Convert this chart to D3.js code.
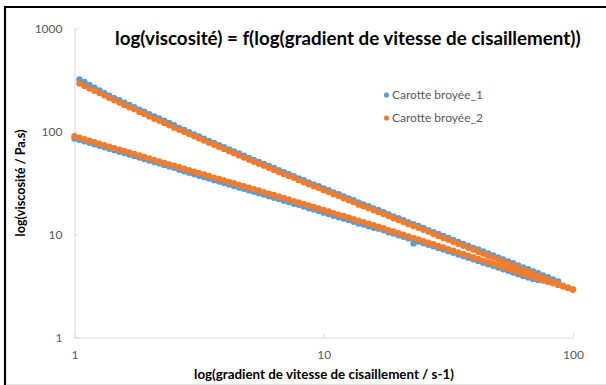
<!DOCTYPE html>
<html>
<head>
<meta charset="utf-8">
<script src="https://cdn.jsdelivr.net/npm/d3@7"></script>
<style>
  body { margin: 0; background: #fff; }
  svg { display: block; }
</style>
</head>
<body>
<script>
// Shear rate (s-1), shared by every ramp
const shearRate = [
  1.000, 1.047, 1.096, 1.148, 1.202, 1.259, 1.318, 1.380, 1.445, 1.514,
  1.585, 1.660, 1.738, 1.820, 1.905, 1.995, 2.089, 2.188, 2.291, 2.399,
  2.512, 2.630, 2.754, 2.884, 3.020, 3.162, 3.311, 3.467, 3.631, 3.802,
  3.981, 4.169, 4.365, 4.571, 4.786, 5.012, 5.248, 5.495, 5.754, 6.026,
  6.310, 6.607, 6.918, 7.244, 7.586, 7.943, 8.318, 8.710, 9.120, 9.550,
  10.00, 10.47, 10.96, 11.48, 12.02, 12.59, 13.18, 13.80, 14.45, 15.14,
  15.85, 16.60, 17.38, 18.20, 19.05, 19.95, 20.89, 21.88, 22.91, 23.99,
  25.12, 26.30, 27.54, 28.84, 30.20, 31.62, 33.11, 34.67, 36.31, 38.02,
  39.81, 41.69, 43.65, 45.71, 47.86, 50.12, 52.48, 54.95, 57.54, 60.26,
  63.10, 66.07, 69.18, 72.44, 75.86, 79.43, 83.18, 87.10, 91.20, 95.50,
  100.0
];

// Carotte broyée_1 — viscosity (Pa.s), rising ramp then falling ramp
const viscosity1Up = [
  null, 321, 302, 283, 266, 251, 235, 223, 211, 201,
  190, 181, 172, 163, 156, 147, 140, 134, 127, 121,
  115, 108, 103.5, 98.4, 93.7, 89.3, 85.1, 81.1, 77.4, 73.8,
  70.3, 67.1, 64.0, 61.1, 58.1, 55.5, 53.0, 50.6, 48.5, 46.3,
  44.2, 42.2, 40.2, 38.6, 36.8, 35.1, 33.6, 32.1, 30.6, 29.4,
  28.0, 26.9, 25.6, 24.6, 23.4, 22.4, 21.5, 20.5, 19.6, 18.8,
  17.9, 17.2, 16.5, 15.7, 15.0, 14.4, 13.8, 13.1, 12.6, 12.1,
  11.6, 11.0, 10.5, 10.1, 9.66, 9.24, 8.85, 8.47, 8.09, 7.74,
  7.41, 7.16, 6.86, 6.54, 6.27, 6.00, 5.74, 5.48, 5.25, 5.01,
  4.80, 4.60, 4.39, 4.20, 4.01, 3.84, 3.67, 3.50, null, null,
  null
];
const viscosity1Down = [
  85.5, 83.2, 80.3, 77.8, 75.2, 72.8, 70.5, 68.1, 65.9, 63.7,
  61.7, 59.7, 57.7, 55.9, 54.0, 52.2, 50.6, 49.0, 47.3, 45.8,
  44.4, 42.5, 41.2, 39.7, 38.4, 37.2, 36.1, 34.9, 33.7, 32.7,
  31.6, 30.6, 29.6, 28.6, 27.8, 26.8, 26.0, 25.2, 24.4, 23.5,
  22.8, 22.1, 21.3, 20.7, 19.9, 19.4, 18.7, 18.0, 17.5, 16.9,
  16.3, 15.8, 15.2, 14.7, 14.3, 13.8, 13.3, 12.8, 12.5, 12.0,
  11.6, 11.4, 11.0, 10.5, 10.2, 9.84, 9.50, 9.16, 8.20, 8.53,
  8.24, 7.95, 7.68, 7.39, 7.14, 6.89, 6.64, 6.40, 6.18, 5.96,
  5.74, 5.53, 5.33, 5.14, 4.96, 4.78, 4.60, 4.44, 4.27, 4.12,
  3.96, 3.83, 3.70, 3.62, 3.57, 3.48, 3.44, 3.40, null, null,
  null
];

// Carotte broyée_2 — viscosity (Pa.s), rising ramp then falling ramp
const viscosity2Up = [
  null, 292, 277, 262, 248, 236, 223, 212, 201, 191,
  181, 172, 164, 155, 148, 140, 133, 127, 121, 115,
  109, 104, 99.3, 94.4, 89.9, 85.7, 81.7, 77.8, 74.3, 70.8,
  67.5, 64.4, 61.4, 58.6, 55.8, 53.3, 50.9, 48.6, 46.5, 44.4,
  42.4, 40.5, 38.6, 37.0, 35.6, 33.7, 32.2, 30.8, 29.4, 28.2,
  26.9, 25.8, 24.6, 23.6, 22.5, 21.5, 20.6, 19.5, 18.8, 18.0,
  17.2, 16.5, 15.8, 15.1, 14.4, 13.8, 13.2, 12.6, 12.1, 11.6,
  11.1, 10.7, 10.1, 9.68, 9.27, 8.87, 8.49, 8.13, 7.76, 7.43,
  7.11, 6.81, 6.52, 6.22, 5.96, 5.70, 5.46, 5.21, 4.99, 4.76,
  4.56, 4.37, 4.17, 3.99, 3.81, 3.65, 3.49, 3.33, 3.19, 3.05,
  2.92
];
const viscosity2Down = [
  89.9, 87.1, 84.1, 81.5, 78.7, 76.2, 73.8, 71.3, 69.0, 66.7,
  64.6, 62.5, 60.4, 58.5, 56.5, 54.7, 53.0, 51.3, 49.5, 48.0,
  46.5, 45.0, 43.6, 42.1, 40.7, 39.4, 38.2, 37.0, 35.7, 34.6,
  33.5, 32.4, 31.4, 30.3, 29.4, 28.4, 27.5, 26.7, 25.8, 24.9,
  24.2, 23.4, 22.6, 21.9, 21.1, 20.5, 19.8, 19.1, 18.5, 17.9,
  17.3, 16.7, 16.1, 15.6, 15.1, 14.6, 14.1, 13.6, 13.2, 12.7,
  12.3, 11.9, 11.5, 11.0, 10.7, 10.3, 9.95, 9.59, 9.27, 8.93,
  8.63, 8.32, 8.04, 7.74, 7.48, 7.21, 6.95, 6.70, 6.47, 6.24,
  6.01, 5.79, 5.58, 5.38, 5.19, 5.00, 4.82, 4.65, 4.47, 4.31,
  4.15, 4.01, 3.87, 3.73, 3.61, 3.48, 3.37, 3.24, 3.13, 3.02,
  2.92
];

const seriesNames = ["Carotte broyée_1", "Carotte broyée_2"];
const seriesColors = ["#5B9BD5", "#ED7D31"];
const xTickValues = [1, 10, 100];
const yTickValues = [1, 10, 100, 1000];
const chartTitle = "log(viscosité) = f(log(gradient de vitesse de cisaillement))";
const xTitle = "log(gradient de vitesse de cisaillement / s-1)";
const yTitle = "log(viscosité / Pa.s)";

const W = 606, H = 385;
const FONT = "Lato, 'Open Sans', sans-serif";

// One list of points per series: rising ramp, then falling ramp
function ramp(up, down) {
  const pts = [];
  shearRate.forEach((s, i) => { if (up[i] != null) pts.push([s, up[i]]); });
  for (let i = shearRate.length - 1; i >= 0; i--) {
    if (down[i] != null) pts.push([shearRate[i], down[i]]);
  }
  return pts;
}
const series = [
  { name: seriesNames[0], color: seriesColors[0], points: ramp(viscosity1Up, viscosity1Down) },
  { name: seriesNames[1], color: seriesColors[1], points: ramp(viscosity2Up, viscosity2Down) }
];

const svg = d3.select("body").append("svg")
  .attr("width", W).attr("height", H)
  .style("font-family", FONT);

svg.append("rect").attr("width", W).attr("height", H).attr("fill", "#fff");

// outer frame (left and top edges visible)
svg.append("path")
  .attr("d", "M5,392V7H612")
  .attr("fill", "none").attr("stroke", "#000").attr("stroke-width", 2.2);
svg.append("line")
  .attr("x1", 6).attr("x2", W).attr("y1", 384.5).attr("y2", 384.5)
  .attr("stroke", "#e4e4e4").attr("stroke-width", 1);

const x = d3.scaleLog().domain([1, 100]).range([74.5, 573]);
const y = d3.scaleLog().domain([1, 1000]).range([337.5, 28.5]);

function fitWidth(sel, target) {
  const len = sel.node().getComputedTextLength();
  const fs = parseFloat(sel.attr("font-size"));
  sel.attr("font-size", (fs * target / len).toFixed(2));
}

function styleAxis(g) {
  g.select(".domain").attr("stroke", "#d9d9d9");
  g.selectAll(".tick line").attr("stroke", "#d9d9d9");
  g.selectAll(".tick text")
    .attr("fill", "#595959")
    .attr("font-size", 12)
    .style("font-family", FONT);
}

svg.append("g")
  .attr("transform", `translate(0,${y(1)})`)
  .call(d3.axisBottom(x).tickValues(xTickValues).tickFormat(d3.format("d"))
    .tickSizeInner(-4).tickSizeOuter(0).tickPadding(13))
  .call(styleAxis);

svg.append("g")
  .attr("transform", `translate(${x(1)},0)`)
  .call(d3.axisLeft(y).tickValues(yTickValues).tickFormat(d3.format("d"))
    .tickSizeInner(-4).tickSizeOuter(0).tickPadding(12))
  .call(styleAxis);

// markers
const plot = svg.append("g");
series.forEach(s => {
  plot.append("g")
    .attr("fill", s.color)
    .selectAll("circle")
    .data(s.points)
    .join("circle")
    .attr("cx", d => x(d[0]))
    .attr("cy", d => y(d[1]))
    .attr("r", 3.2);
});

// title
const title = svg.append("text")
  .attr("x", 115).attr("y", 45)
  .attr("font-size", 17).attr("font-weight", "bold")
  .attr("fill", "#000")
  .text(chartTitle);
fitWidth(title, 466);

// axis titles
const xt = svg.append("text")
  .attr("x", 324).attr("y", 379)
  .attr("text-anchor", "middle")
  .attr("font-size", 12).attr("font-weight", "bold")
  .attr("fill", "#000")
  .text(xTitle);
fitWidth(xt, 260);

const yt = svg.append("text")
  .attr("transform", "translate(21,183) rotate(-90)")
  .attr("text-anchor", "middle").attr("dy", "0.35em")
  .attr("font-size", 12).attr("font-weight", "bold")
  .attr("fill", "#000")
  .text(yTitle);
fitWidth(yt, 107);

// legend
const legend = svg.append("g");
series.forEach((s, i) => {
  const ly = 95 + i * 23;
  legend.append("circle").attr("cx", 386.5).attr("cy", ly).attr("r", 2.6).attr("fill", s.color);
  const t = legend.append("text")
    .attr("x", 392).attr("y", ly).attr("dy", "0.35em")
    .attr("font-size", 11.5).attr("fill", "#595959")
    .text(s.name);
  fitWidth(t, 91);
});
</script>
</body>
</html>
